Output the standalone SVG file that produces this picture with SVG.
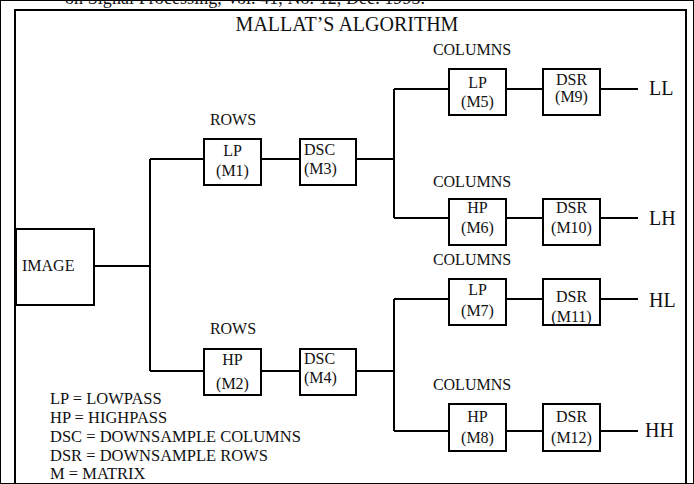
<svg xmlns="http://www.w3.org/2000/svg" width="694" height="484" viewBox="0 0 694 484">
<style>
text{font-family:"Liberation Serif","Times New Roman",serif;fill:#111}
.t{font-size:16px}
.c{text-anchor:middle}
.big{font-size:20px}
rect{fill:#fff;stroke:#000;stroke-width:2}
.ln{fill:none;stroke:#000;stroke-width:2}
</style>
<rect width="694" height="484" fill="#fff" stroke="none"/>
<text x="65" y="4" font-size="18" textLength="360">on Signal Processing, Vol. 41, No. 12, Dec. 1993.</text>
<path class="ln" d="M15,486 V10 H686 V486"/>
<text class="big c" x="347" y="31">MALLAT’S ALGORITHM</text>
<g id="connectors" class="ln">
<path class="ln" d="M94,266 H150 M150,159 V371 M150,159 H204 M150,371 H204"/>
<path class="ln" d="M261,159 H300 M356,159 H394 M261,371 H300 M356,371 H394"/>
<path class="ln" d="M394,89 V218 M394,89 H449 M394,218 H449 M394,299 V431 M394,299 H449 M394,431 H449"/>
<path class="ln" d="M506,89 H543 M506,218 H543 M506,299 H543 M506,431 H543"/>
<path class="ln" d="M600,89 H638 M600,218 H638 M600,299 H638 M600,431 H638"/>
</g>
<g id="image"><rect x="16" y="229" width="78" height="76"/><text class="t" x="22" y="271">IMAGE</text></g>
<g id="rows1"><text class="t c" x="233" y="125">ROWS</text></g>
<g id="m1"><rect x="204" y="139" width="57" height="46"/><text class="t c" x="232.5" y="156">LP</text><text class="t c" x="232.5" y="176">(M1)</text></g>
<g id="m3"><rect x="300" y="139" width="56" height="46"/><text class="t" x="304" y="155">DSC</text><text class="t" x="304" y="174">(M3)</text></g>
<g id="rows2"><text class="t c" x="233" y="334">ROWS</text></g>
<g id="m2"><rect x="204" y="349" width="57" height="46"/><text class="t c" x="232.5" y="365">HP</text><text class="t c" x="232.5" y="389">(M2)</text></g>
<g id="m4"><rect x="300" y="349" width="56" height="46"/><text class="t" x="304" y="364">DSC</text><text class="t" x="304" y="383">(M4)</text></g>
<g id="cols1"><text class="t c" x="472" y="55">COLUMNS</text></g>
<g id="m5"><rect x="449" y="69" width="57" height="46"/><text class="t c" x="477.5" y="88">LP</text><text class="t c" x="477.5" y="107">(M5)</text></g>
<g id="m9"><rect x="543" y="69" width="57" height="46"/><text class="t c" x="571.5" y="85">DSR</text><text class="t c" x="571.5" y="102">(M9)</text></g>
<g id="ll"><text class="big" x="649" y="95">LL</text></g>
<g id="cols2"><text class="t c" x="472" y="187">COLUMNS</text></g>
<g id="m6"><rect x="449" y="199" width="57" height="46"/><text class="t c" x="477.5" y="213">HP</text><text class="t c" x="477.5" y="233">(M6)</text></g>
<g id="m10"><rect x="543" y="199" width="57" height="46"/><text class="t c" x="571.5" y="213">DSR</text><text class="t c" x="571.5" y="233">(M10)</text></g>
<g id="lh"><text class="big" x="649" y="225">LH</text></g>
<g id="cols3"><text class="t c" x="472" y="265">COLUMNS</text></g>
<g id="m7"><rect x="449" y="279" width="57" height="46"/><text class="t c" x="477.5" y="295">LP</text><text class="t c" x="477.5" y="316">(M7)</text></g>
<g id="m11"><rect x="543" y="279" width="57" height="46"/><text class="t c" x="571.5" y="302">DSR</text><text class="t c" x="571.5" y="322">(M11)</text></g>
<g id="hl"><text class="big" x="649" y="307">HL</text></g>
<g id="cols4"><text class="t c" x="472" y="390">COLUMNS</text></g>
<g id="m8"><rect x="449" y="404" width="57" height="47"/><text class="t c" x="477.5" y="422">HP</text><text class="t c" x="477.5" y="443">(M8)</text></g>
<g id="m12"><rect x="543" y="404" width="57" height="47"/><text class="t c" x="571.5" y="422">DSR</text><text class="t c" x="571.5" y="443">(M12)</text></g>
<g id="hh"><text class="big" x="645" y="437">HH</text></g>
<g id="legend" font-size="16.5">
<text x="50" y="404">LP = LOWPASS</text>
<text x="50" y="423">HP = HIGHPASS</text>
<text x="50" y="442">DSC = DOWNSAMPLE COLUMNS</text>
<text x="50" y="461">DSR = DOWNSAMPLE ROWS</text>
<text x="50" y="479">M = MATRIX</text>
</g>
</svg>
